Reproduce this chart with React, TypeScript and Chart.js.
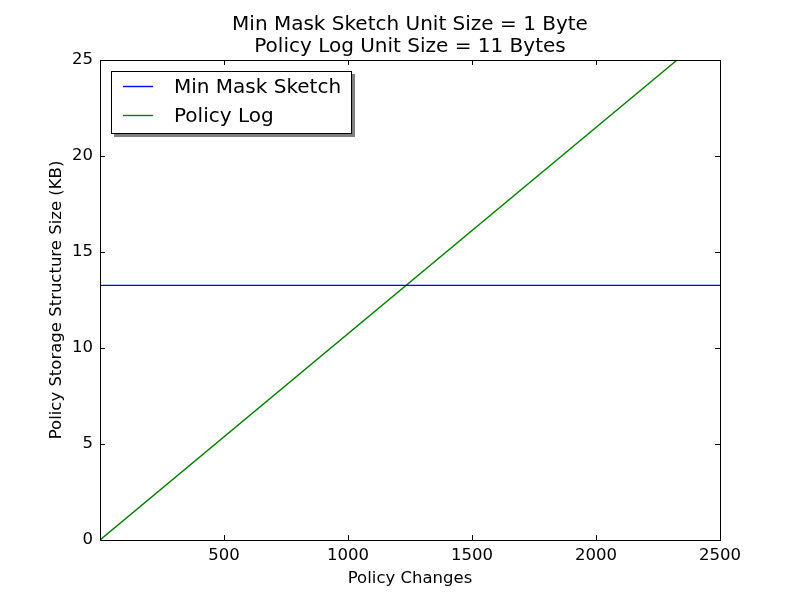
import React, { useEffect, useRef } from "react";
import { Chart, registerables } from "chart.js";

Chart.register(...registerables);

const policyChanges = [0, 2500];
const policyLogKB = [0, 26.86];
const minMaskKB = [13.26, 13.26];
const seriesLabels = ["Min Mask Sketch", "Policy Log"];
const seriesColors = ["#0000ff", "#008000"];
const titleLines = ["Min Mask Sketch Unit Size = 1 Byte", "Policy Log Unit Size = 11 Bytes"];
const xTitle = "Policy Changes";
const yTitle = "Policy Storage Structure Size (KB)";

const FONT = "'DejaVu Sans', sans-serif";

const decorPlugin = {
  id: "decor",
  afterDraw(chart: any) {
    const ctx = chart.ctx as CanvasRenderingContext2D;
    const { left, right, top, bottom } = chart.chartArea;
    const xs = chart.scales.x;
    const ys = chart.scales.y;
    ctx.save();
    // frame
    ctx.strokeStyle = "#000";
    ctx.lineWidth = 1;
    ctx.strokeRect(Math.round(left) + 0.5, Math.round(top) + 0.5, Math.round(right - left), Math.round(bottom - top));
    // inward ticks
    const tl = 5;
    ctx.beginPath();
    xs.ticks.forEach((t: any) => {
      const px = Math.round(xs.getPixelForValue(t.value)) + 0.5;
      ctx.moveTo(px, bottom);
      ctx.lineTo(px, bottom - tl);
      ctx.moveTo(px, top);
      ctx.lineTo(px, top + tl);
    });
    ys.ticks.forEach((t: any) => {
      const py = Math.round(ys.getPixelForValue(t.value)) + 0.5;
      ctx.moveTo(left, py);
      ctx.lineTo(left + tl, py);
      ctx.moveTo(right, py);
      ctx.lineTo(right - tl, py);
    });
    ctx.stroke();

    // title
    ctx.fillStyle = "#000";
    ctx.textAlign = "center";
    ctx.textBaseline = "middle";
    ctx.font = `20px ${FONT}`;
    const cx = (left + right) / 2;
    ctx.fillText(titleLines[0], cx, 25);
    ctx.fillText(titleLines[1], cx, 47);

    // axis titles
    ctx.font = `16.5px ${FONT}`;
    ctx.fillText(xTitle, cx, 579);
    ctx.save();
    ctx.translate(57, (top + bottom) / 2);
    ctx.rotate(-Math.PI / 2);
    ctx.fillText(yTitle, 0, 0);
    ctx.restore();

    // legend
    const bx = 111, by = 71, bw = 240, bh = 62;
    ctx.fillStyle = "#7f7f7f";
    ctx.fillRect(bx + 3, by + 3, bw + 1, bh + 1);
    ctx.fillStyle = "#fff";
    ctx.fillRect(bx, by, bw, bh);
    ctx.strokeStyle = "#000";
    ctx.lineWidth = 1;
    ctx.strokeRect(bx + 0.5, by + 0.5, bw, bh);
    ctx.font = `20px ${FONT}`;
    ctx.textAlign = "left";
    const rows = [86, 115];
    rows.forEach((ry, i) => {
      ctx.strokeStyle = seriesColors[i];
      ctx.lineWidth = 1.4;
      ctx.beginPath();
      ctx.moveTo(123, ry + 0.5);
      ctx.lineTo(153, ry + 0.5);
      ctx.stroke();
      ctx.fillStyle = "#000";
      ctx.fillText(seriesLabels[i], 174, ry + 2);
    });
    ctx.restore();
  },
};

export default function App() {
  const ref = useRef<HTMLCanvasElement>(null);
  useEffect(() => {
    const chart = new Chart(ref.current!, {
      type: "line",
      data: {
        datasets: [
          {
            label: seriesLabels[0],
            data: policyChanges.map((x, i) => ({ x, y: minMaskKB[i] })),
            borderColor: seriesColors[0],
            borderWidth: 1.4,
            pointRadius: 0,
          },
          {
            label: seriesLabels[1],
            data: policyChanges.map((x, i) => ({ x, y: policyLogKB[i] })),
            borderColor: seriesColors[1],
            borderWidth: 1.4,
            pointRadius: 0,
          },
        ],
      },
      options: {
        animation: false,
        responsive: false,
        layout: { padding: { top: 60, right: 80, left: 0, bottom: 0 } },
        plugins: { legend: { display: false }, title: { display: false }, tooltip: { enabled: false } },
        scales: {
          x: {
            type: "linear",
            min: 0,
            max: 2500,
            grid: { display: false, drawTicks: false },
            border: { display: true, color: "#000" },
            ticks: {
              stepSize: 500,
              padding: 6,
              color: "#000",
              font: { family: FONT, size: 16.5 },
              maxRotation: 0,
              callback: (v: any) => (v === 0 ? "" : String(v)),
            },
            afterFit: (s: any) => {
              s.height = 60;
            },
          },
          y: {
            min: 0,
            max: 25,
            grid: { display: false, drawTicks: false },
            border: { display: true, color: "#000" },
            ticks: {
              stepSize: 5,
              padding: 7,
              color: "#000",
              font: { family: FONT, size: 16.5 },
            },
            afterFit: (s: any) => {
              s.width = 100;
            },
          },
        },
      },
      plugins: [decorPlugin],
    });
    return () => chart.destroy();
  }, []);
  return (
    <div style={{ position: "fixed", left: 0, top: 0, width: 800, height: 600, background: "#fff" }}>
      <canvas ref={ref} width={800} height={600} style={{ width: 800, height: 600 }} />
    </div>
  );
}
